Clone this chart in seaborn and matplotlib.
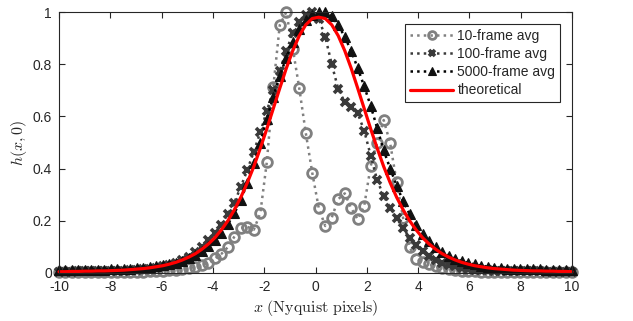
import numpy as np
import pandas as pd
import matplotlib
matplotlib.use("Agg")
import matplotlib.pyplot as plt
import seaborn as sns

# ---------------- data ----------------
x_grid = np.linspace(-10, 10, 80)

avg10 = [0.004, 0.004, 0.004, 0.004, 0.004, 0.004, 0.004, 0.004, 0.004, 0.004,
         0.004, 0.004, 0.004, 0.005, 0.006, 0.007, 0.008, 0.010, 0.012, 0.014,
         0.018, 0.023, 0.030, 0.040, 0.056, 0.073, 0.099, 0.139, 0.172, 0.177,
         0.166, 0.229, 0.424, 0.712, 0.950, 1.000, 0.860, 0.708, 0.537, 0.384,
         0.249, 0.180, 0.212, 0.283, 0.305, 0.248, 0.206, 0.257, 0.410, 0.500,
         0.586, 0.497, 0.347, 0.210, 0.098, 0.055, 0.043, 0.034, 0.025, 0.019,
         0.014, 0.011, 0.009, 0.007, 0.006, 0.005, 0.005, 0.004, 0.004, 0.004,
         0.004, 0.004, 0.004, 0.004, 0.004, 0.004, 0.004, 0.004, 0.004, 0.004]

avg100 = [0.005, 0.005, 0.005, 0.006, 0.006, 0.006, 0.007, 0.007, 0.008, 0.008,
          0.009, 0.010, 0.012, 0.014, 0.017, 0.021, 0.026, 0.032, 0.040, 0.050,
          0.063, 0.080, 0.100, 0.125, 0.155, 0.185, 0.225, 0.270, 0.330, 0.395,
          0.465, 0.540, 0.620, 0.700, 0.775, 0.850, 0.920, 0.960, 0.990, 1.000,
          0.975, 0.905, 0.800, 0.705, 0.655, 0.637, 0.612, 0.545, 0.450, 0.355,
          0.295, 0.250, 0.210, 0.172, 0.135, 0.108, 0.085, 0.066, 0.051, 0.040,
          0.031, 0.025, 0.020, 0.016, 0.013, 0.011, 0.010, 0.009, 0.008, 0.008,
          0.007, 0.007, 0.006, 0.006, 0.006, 0.005, 0.005, 0.005, 0.005, 0.005]

avg5000 = [0.012, 0.012, 0.012, 0.012, 0.012, 0.013, 0.013, 0.013, 0.014, 0.014,
           0.015, 0.016, 0.018, 0.020, 0.022, 0.025, 0.029, 0.034, 0.040, 0.047,
           0.057, 0.070, 0.085, 0.103, 0.127, 0.155, 0.187, 0.228, 0.280, 0.345,
           0.420, 0.500, 0.590, 0.675, 0.755, 0.825, 0.885, 0.935, 0.970, 0.990,
           1.000, 1.000, 0.985, 0.950, 0.905, 0.850, 0.785, 0.715, 0.640, 0.555,
           0.470, 0.400, 0.335, 0.275, 0.225, 0.185, 0.150, 0.122, 0.100, 0.082,
           0.067, 0.055, 0.046, 0.039, 0.033, 0.028, 0.024, 0.021, 0.019, 0.017,
           0.016, 0.015, 0.015, 0.014, 0.014, 0.013, 0.013, 0.013, 0.012, 0.012]

theory = [0.005, 0.005, 0.006, 0.006, 0.007, 0.007, 0.008, 0.008, 0.009, 0.010,
          0.011, 0.013, 0.015, 0.017, 0.020, 0.024, 0.028, 0.034, 0.041, 0.050,
          0.061, 0.074, 0.091, 0.111, 0.135, 0.165, 0.200, 0.242, 0.290, 0.346,
          0.408, 0.478, 0.552, 0.630, 0.708, 0.784, 0.852, 0.909, 0.951, 0.975,
          0.980, 0.975, 0.951, 0.909, 0.852, 0.784, 0.708, 0.630, 0.552, 0.478,
          0.408, 0.346, 0.290, 0.242, 0.200, 0.165, 0.135, 0.111, 0.091, 0.074,
          0.061, 0.050, 0.041, 0.034, 0.028, 0.024, 0.020, 0.017, 0.015, 0.013,
          0.011, 0.010, 0.009, 0.008, 0.008, 0.007, 0.007, 0.006, 0.006, 0.005]

series_labels = ["10-frame avg", "100-frame avg", "5000-frame avg", "theoretical"]
x_ticks = [-10, -8, -6, -4, -2, 0, 2, 4, 6, 8, 10]
y_ticks = [0, 0.2, 0.4, 0.6, 0.8, 1]
y_ticklabels = ["0", "0.2", "0.4", "0.6", "0.8", "1"]

# ---------------- style ----------------
sns.set_theme(style="ticks")
plt.rcParams["font.family"] = ["Liberation Sans", "DejaVu Sans"]
plt.rcParams["mathtext.fontset"] = "cm"
plt.rcParams["axes.unicode_minus"] = False

fig = plt.figure(figsize=(6.33, 3.21), dpi=100)
ax = fig.add_axes([59 / 633, 48 / 321, 513 / 633, 261 / 321])

df = pd.DataFrame({"x": x_grid, "a10": avg10, "a100": avg100,
                   "a5000": avg5000, "th": theory})

common = dict(ax=ax, estimator=None, sort=False, errorbar=None, legend=False)

sns.lineplot(data=df, x="x", y="a10", color="#808080", linestyle=":", lw=1.8,
             marker="o", markersize=7, mfc="none", mec="#808080", mew=2.0,
             clip_on=False, **common)
sns.lineplot(data=df, x="x", y="a100", color="#3a3a3a", linestyle=":", lw=1.8,
             marker="x", markersize=5.5, mec="#3a3a3a", mew=2.6,
             clip_on=False, **common)
sns.lineplot(data=df, x="x", y="a5000", color="#000000", linestyle=":", lw=1.8,
             marker="^", markersize=7.5, mfc="#111111", mec="#111111", mew=0.8,
             clip_on=False, **common)
sns.lineplot(data=df, x="x", y="th", color="#ff0000", linestyle="-", lw=2.3,
             clip_on=False, **common)

ax.set_xlim(-10, 10)
ax.set_ylim(0, 1)
ax.set_xticks(x_ticks)
ax.set_xticklabels([str(t) for t in x_ticks])
ax.set_yticks(y_ticks)
ax.set_yticklabels(y_ticklabels)

for s in ax.spines.values():
    s.set_visible(True)
    s.set_color("#262626")
    s.set_linewidth(0.8)
ax.tick_params(direction="in", length=4, width=0.8, color="#262626",
               labelsize=10, labelcolor="#262626", top=True, right=True, pad=5)

ax.set_xlabel(r"$x\ \mathrm{(Nyquist\ pixels)}$", fontsize=11.5, color="#262626", labelpad=3)
ax.set_ylabel(r"$h(x,0)$", fontsize=11.5, color="#262626", labelpad=3)

handles = ax.lines[:4]
leg = ax.legend(handles, series_labels, loc="upper right",
                bbox_to_anchor=(0.977, 0.954), borderaxespad=0,
                fontsize=10, frameon=True, fancybox=False, framealpha=1,
                edgecolor="#262626", handlelength=3.1, handletextpad=0.3,
                labelspacing=0.3, borderpad=0.35, numpoints=1, markerscale=0.8)
leg.get_frame().set_linewidth(0.8)

fig.savefig("out.png", dpi=100)
